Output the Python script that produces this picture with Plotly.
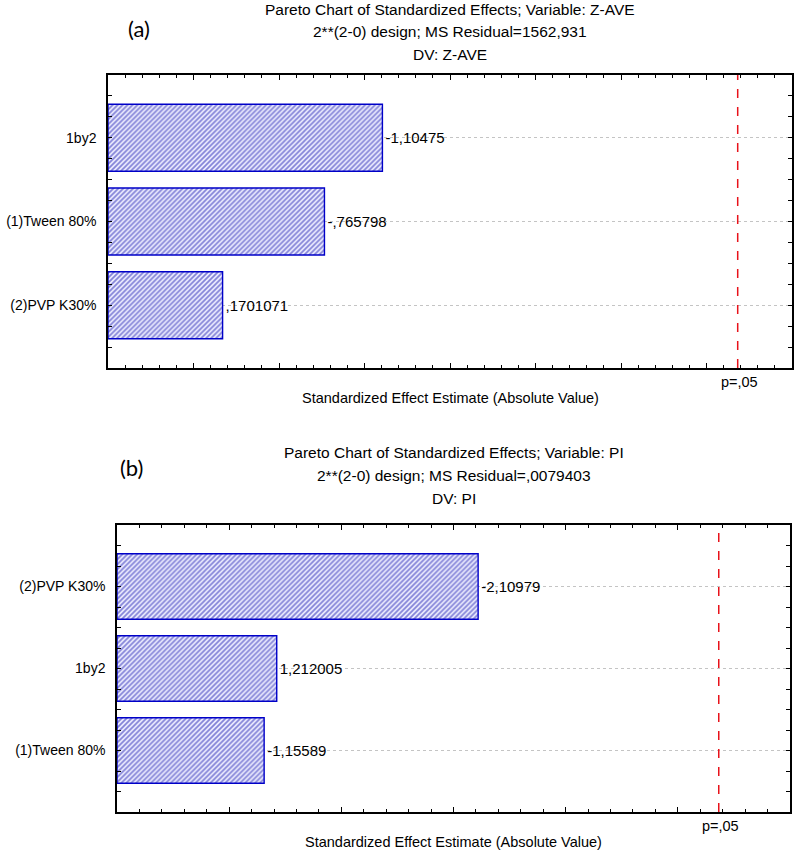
import plotly.graph_objects as go

# ---------------- data ----------------
EFFECTS_A = ["1by2", "(1)Tween 80%", "(2)PVP K30%"]
VALUES_A = [-1.10475, -0.765798, 0.1701071]
LABELS_A = ["-1,10475", "-,765798", ",1701071"]
TITLE_A = ["Pareto Chart of Standardized Effects; Variable: Z-AVE",
           "2**(2-0) design; MS Residual=1562,931",
           "DV: Z-AVE"]

EFFECTS_B = ["(2)PVP K30%", "1by2", "(1)Tween 80%"]
VALUES_B = [-2.10979, 1.212005, -1.15589]
LABELS_B = ["-2,10979", "1,212005", "-1,15589"]
TITLE_B = ["Pareto Chart of Standardized Effects; Variable: PI",
           "2**(2-0) design; MS Residual=,0079403",
           "DV: PI"]

T_CRIT = 3.182446          # p = .05 critical t value
P_LABEL = "p=,05"
X_TITLE = "Standardized Effect Estimate (Absolute Value)"
XRANGE_A = [-0.5, 3.5]
XRANGE_B = [0.5, 3.5]

# ---------------- styling ----------------
W, H = 795, 852
FONT = "Liberation Sans, Arial, sans-serif"
FS = 14.5
FS_TITLE = 15.5
FS_TICK = 14
FS_VAL = 15
BAR_LINE = "#0000c8"
HATCH = "#1818b0"

fig = go.Figure()


def add_panel(names, values, labels, xr, xa, ya):
    n = len(names)
    pos = list(range(n - 1, -1, -1))
    fig.add_trace(go.Bar(
        orientation="h",
        y=pos,
        x=[abs(v) - xr[0] for v in values],
        base=xr[0],
        width=0.8,
        text=labels,
        textposition="outside",
        constraintext="none",
        cliponaxis=False,
        textfont=dict(family=FONT, size=FS_VAL, color="black"),
        marker=dict(color="white",
                    pattern=dict(shape="/", fgcolor=HATCH, bgcolor="#eeeeff",
                                 size=3.5, solidity=0.5),
                    line=dict(color=BAR_LINE, width=1.4)),
        xaxis=xa, yaxis=ya, showlegend=False, hoverinfo="skip",
    ))
    return pos


pos_a = add_panel(EFFECTS_A, VALUES_A, LABELS_A, XRANGE_A, "x", "y")
pos_b = add_panel(EFFECTS_B, VALUES_B, LABELS_B, XRANGE_B, "x2", "y2")

dom_x_a = [108 / W, 792 / W]
dom_y_a = [1 - 368 / H, 1 - 75 / H]
dom_x_b = [117 / W, 790 / W]
dom_y_b = [1 - 812 / H, 1 - 525 / H]


def xaxis_cfg(dom, rng, anchor):
    return dict(domain=dom, range=rng, anchor=anchor, showgrid=False,
                zeroline=False, showticklabels=False,
                ticks="inside", dtick=0.5, tick0=0, ticklen=5, tickcolor="black",
                minor=dict(ticks="inside", dtick=0.1, tick0=0, ticklen=3,
                           tickcolor="black", showgrid=False),
                showline=True, linecolor="black", linewidth=1.5, mirror="ticks")


def yaxis_cfg(dom, pos, names, anchor):
    return dict(domain=dom, range=[-0.75, len(names) - 0.25], anchor=anchor,
                tickmode="array", tickvals=pos, ticktext=names,
                ticks="inside", ticklen=4, tickcolor="black",
                ticklabelstandoff=7,
                minor=dict(ticks="inside", dtick=0.25, tick0=0, ticklen=4,
                           tickcolor="black", showgrid=False),
                showgrid=True, gridcolor="#c4c4c4", griddash="dot", gridwidth=1,
                zeroline=False, tickfont=dict(family=FONT, size=FS_TICK, color="black"),
                showline=True, linecolor="black", linewidth=1.5, mirror="ticks")


fig.update_layout(
    width=W, height=H, autosize=False,
    margin=dict(l=0, r=0, t=0, b=0),
    paper_bgcolor="white", plot_bgcolor="white",
    font=dict(family=FONT, size=FS, color="black"),
    xaxis=xaxis_cfg(dom_x_a, XRANGE_A, "y"),
    yaxis=yaxis_cfg(dom_y_a, pos_a, EFFECTS_A, "x"),
    xaxis2=xaxis_cfg(dom_x_b, XRANGE_B, "y2"),
    yaxis2=yaxis_cfg(dom_y_b, pos_b, EFFECTS_B, "x2"),
    bargap=0.2,
)

# critical value lines and labels
for xa, ya in (("x", "y"), ("x2", "y2")):
    fig.add_shape(type="line", xref=xa, yref=f"{ya} domain",
                  x0=T_CRIT, x1=T_CRIT, y0=0, y1=1,
                  line=dict(color="#e8121a", width=1.5, dash="dash"))
    fig.add_annotation(xref=xa, yref=f"{ya} domain", x=T_CRIT, y=0,
                       yanchor="middle", yshift=-14, xshift=2, showarrow=False,
                       text=P_LABEL, font=dict(family=FONT, size=FS, color="black"))
    fig.add_annotation(xref=f"{xa} domain", yref=f"{ya} domain", x=0.5, y=0,
                       yanchor="middle", yshift=-30, showarrow=False,
                       text=X_TITLE, font=dict(family=FONT, size=FS, color="black"))

# titles
for lines, dom_x, tops in ((TITLE_A, dom_x_a, [10, 32, 55]),
                           (TITLE_B, dom_x_b, [453, 476, 498])):
    for line, ty in zip(lines, tops):
        fig.add_annotation(xref="paper", yref="paper",
                           x=(dom_x[0] + dom_x[1]) / 2, y=1 - ty / H,
                           xanchor="center", yanchor="middle", showarrow=False,
                           text=line, font=dict(family=FONT, size=FS_TITLE, color="black"))

# panel letters
for letter, px, py in (("(a)", 139, 28), ("(b)", 131, 467)):
    fig.add_annotation(xref="paper", yref="paper", x=px / W, y=1 - py / H,
                       xanchor="center", yanchor="middle", showarrow=False,
                       text=letter, font=dict(family="Lato, Open Sans, sans-serif",
                                              size=22, color="black"))

fig.write_html("out.html", config={"displayModeBar": False},
               post_script="document.body.style.margin='0';")
